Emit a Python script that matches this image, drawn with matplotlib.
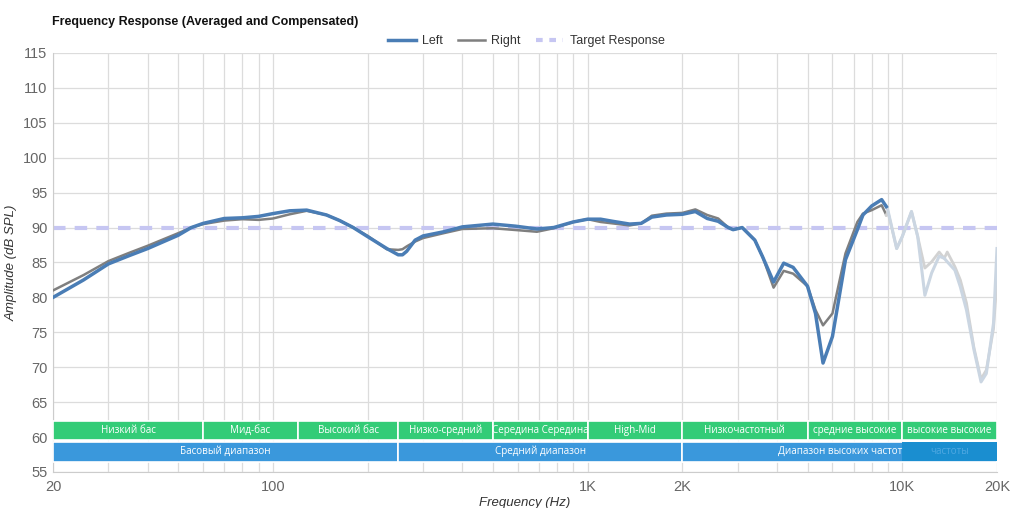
import numpy as np
import matplotlib.pyplot as plt
from matplotlib.patches import Rectangle
from matplotlib.lines import Line2D

plt.rcParams["font.family"] = ["Liberation Sans", "DejaVu Sans"]

# Data
freq_left = [20, 25, 30, 35, 40, 50, 55, 60, 70, 80, 90, 100, 113, 128, 148, 163, 180, 200,
             230, 250, 258, 266, 283, 300, 349, 400, 500, 590, 690, 780, 900, 1000, 1100,
             1200, 1360, 1480, 1600, 1780, 2000, 2200, 2400, 2600, 2800, 2900, 3100,
             3400, 3600, 3900, 4200, 4500, 5000, 5300, 5600, 6000, 6600, 7200, 7500,
             8000, 8600, 8900]
left_db = [80.0, 82.5, 84.8, 86.0, 87.0, 88.9, 90.0, 90.6, 91.3, 91.4, 91.6, 92.0, 92.4, 92.5, 91.8,
           91.0, 90.0, 88.7, 87.0, 86.1, 86.1, 86.6, 88.2, 88.8, 89.4, 90.1, 90.5, 90.2, 89.8,
           90.0, 90.8, 91.2, 91.2, 90.9, 90.5, 90.6, 91.5, 91.8, 91.9, 92.3, 91.3, 90.9,
           90.0, 89.7, 90.0, 88.2, 85.8, 82.2, 84.9, 84.3, 81.6, 77.7, 70.6, 74.4, 85.4,
           89.7, 91.8, 93.1, 94.0, 93.0]
right_db = [81.0, 83.2, 85.2, 86.4, 87.4, 89.2, 90.0, 90.5, 91.0, 91.2, 91.1, 91.3, 91.9, 92.4, 91.8,
            91.0, 90.0, 88.8, 86.9, 86.8, 86.9, 87.3, 88.0, 88.5, 89.2, 89.8, 89.9, 89.65, 89.4,
            89.9, 90.8, 91.2, 90.8, 90.6, 90.3, 90.6, 91.7, 92.0, 92.1, 92.6, 91.8, 91.3,
            90.0, 89.7, 90.0, 88.2, 85.8, 81.4, 83.8, 83.4, 81.6, 78.2, 76.0, 77.7, 86.3,
            90.8, 92.0, 92.5, 93.2, 91.8]

# faded part above ~9 kHz
freq_hi = [8900, 9000, 9600, 10000, 10700, 11200, 11800, 12400, 13100, 13600, 13900,
           14700, 15300, 16000, 16900, 17800, 18500, 19500, 20000]
left_hi = [93.0, 92.5, 87.0, 88.7, 92.3, 88.7, 80.3, 83.5, 85.9, 85.6, 85.1, 83.9, 81.5,
           78.2, 72.5, 67.9, 69.1, 76.3, 87.0]
right_hi = [91.8, 92.3, 87.0, 88.7, 92.3, 88.7, 84.2, 85.1, 86.5, 85.6, 86.5, 84.4, 82.5,
            79.2, 72.8, 68.3, 69.6, 75.5, 82.5]

target_db = 90

# frequency bands (start, end, label)
bands_top = [(20, 60, "Низкий бас"), (60, 120, "Мид-бас"), (120, 250, "Высокий бас"),
             (250, 500, "Низко-средний"), (500, 1000, "Середина Середина"),
             (1000, 2000, "High-Mid"), (2000, 5000, "Низкочастотный"),
             (5000, 10000, "средние высокие"), (10000, 20000, "высокие высокие")]
bands_bottom = [(20, 250, "Басовый диапазон"), (250, 2000, "Средний диапазон"),
                (2000, 20000, "Диапазон высоких частот")]

fig = plt.figure(figsize=(10.24, 5.08), dpi=100)
ax = fig.add_axes([0.0518, 0.0709, 0.9218, 0.8248])

ax.set_xscale("log")
ax.set_xlim(20, 20000)
ax.set_ylim(55, 115)

major = [20, 100, 1000, 2000, 10000, 20000]
ax.set_xticks(major)
ax.set_xticklabels(["20", "100", "1K", "2K", "10K", "20K"])
minor = [m * d for d in (10, 100, 1000) for m in range(2, 10)]
minor = [v for v in minor if v not in major and v > 20]
ax.set_xticks(minor, minor=True)
ax.set_yticks(np.arange(55, 116, 5))
ax.tick_params(axis="both", which="both", length=0, labelsize=10.5, colors="#666666", pad=4)
ax.tick_params(axis="x", pad=6)
ax.grid(True, which="both", color="#dcdcdc", linewidth=0.9)
ax.set_axisbelow(True)
for side in ["top", "right"]:
    ax.spines[side].set_visible(False)
ax.spines["left"].set_color("#cccccc")
ax.spines["bottom"].set_color("#cccccc")

# target line
ax.axhline(target_db, color="#c6c6f2", linewidth=3, dashes=(3, 2.2), zorder=2)

# measured curves
ax.plot(freq_left, right_db, color="#7f7f7f", linewidth=1.8, zorder=3,
        solid_joinstyle="round")
ax.plot(freq_left, left_db, color="#4a7db5", linewidth=2.5, zorder=4,
        solid_joinstyle="round")
ax.plot(freq_hi, right_hi, color="#d2d2d2", linewidth=2.0, zorder=3, solid_joinstyle="round")
ax.plot(freq_hi, left_hi, color="#cbd6e2", linewidth=2.2, zorder=3, solid_joinstyle="round")

# band rows
green, blue, dblue = "#33cc77", "#3a98dc", "#1a8ed0"
band_font = ["Open Sans", "DejaVu Sans"]
for f0, f1, lab in bands_top:
    ax.add_patch(Rectangle((f0, 59.6), f1 - f0, 2.75, facecolor=green, edgecolor="white",
                           linewidth=1.2, zorder=5))
    ax.text(np.sqrt(f0 * f1), 60.95, lab, ha="center", va="center", color="white",
            fontsize=7.1, family=band_font, zorder=6)
for f0, f1, lab in bands_bottom:
    ax.add_patch(Rectangle((f0, 56.5), f1 - f0, 2.8, facecolor=blue, edgecolor="white",
                           linewidth=1.2, zorder=5))
    ax.text(np.sqrt(f0 * f1), 57.9, lab, ha="center", va="center", color="white",
            fontsize=7.1, family=band_font, zorder=7)
ax.add_patch(Rectangle((10000, 56.55), 10000, 2.7, facecolor=dblue, edgecolor="none",
                       zorder=6))
ax.text(np.sqrt(10000 * 20000), 57.9, "частоты", ha="center", va="center", color="#4fa8e2",
        fontsize=7.1, family=band_font, zorder=7)

ax.set_ylabel("Amplitude (dB SPL)", fontsize=9.5, style="italic", color="#333333", labelpad=4)
ax.set_xlabel("Frequency (Hz)", fontsize=9.5, style="italic", color="#333333", labelpad=2)

fig.text(0.051, 0.957, "Frequency Response (Averaged and Compensated)", fontsize=9,
         fontweight="bold", color="#111111", va="center")

handles = [Line2D([], [], color="#4a7db5", linewidth=2.5),
           Line2D([], [], color="#7f7f7f", linewidth=1.8),
           Line2D([], [], color="#c6c6f2", linewidth=3, dashes=(1.6, 1.6))]
fig.legend(handles, ["Left", "Right", "Target Response"], loc="center",
           bbox_to_anchor=(0.514, 0.919), ncol=3, frameon=False, fontsize=9,
           handlelength=2.2, columnspacing=1.2, handletextpad=0.5, labelcolor="#333333")

fig.savefig("out.png", dpi=100)
